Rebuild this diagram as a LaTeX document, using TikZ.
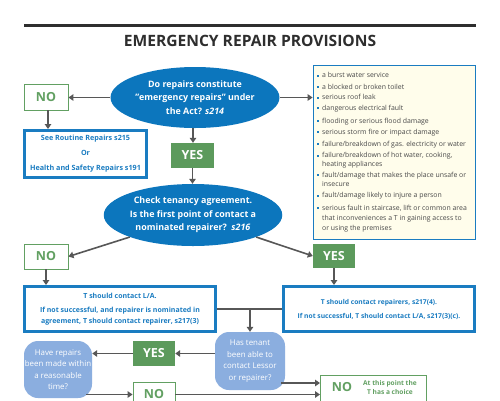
\documentclass[tikz,border=0pt]{standalone}
\usepackage{fontspec}
\setmainfont{Open Sans}
\usetikzlibrary{arrows.meta,shapes.geometric}
\definecolor{dblue}{HTML}{0C76BD}
\definecolor{bblue}{HTML}{1A7CC1}
\definecolor{lblue}{HTML}{8BAEDF}
\definecolor{ygreen}{HTML}{5C9A5C}
\definecolor{ngreen}{HTML}{62A062}
\definecolor{agray}{HTML}{575757}
\definecolor{cream}{HTML}{FFFDEB}
\definecolor{tgray}{HTML}{2E2E2E}
\definecolor{ltext}{HTML}{4A4A4A}
\begin{document}
\begin{tikzpicture}[x=1pt,y=-1pt,
  arr/.style={draw=agray, line width=1.6pt, -{Triangle[length=5pt,width=6.5pt]}},
  ln/.style={draw=agray, line width=1.6pt},
  ell/.style={ellipse, fill=dblue, text=white, inner sep=0pt, align=center, font=\bfseries\fontsize{8.9}{13.5}\selectfont},
  nobox/.style={draw=ngreen, line width=0.9pt, fill=white, text=ngreen, inner sep=0pt, font=\bfseries\fontsize{12.5}{13}\selectfont},
  yesbox/.style={fill=ygreen, text=white, inner sep=0pt, font=\bfseries\fontsize{12.5}{13}\selectfont},
  bbox/.style={draw=bblue, line width=3pt, fill=white, text=bblue, inner sep=0pt, align=center, font=\bfseries\fontsize{7}{11}\selectfont},
  rbox/.style={fill=lblue, text=white, rounded corners=14pt, inner sep=0pt, align=center, font=\fontsize{7.9}{11.5}\selectfont},
  ltxt/.style={anchor=base west, inner sep=0pt, text=ltext, font=\fontsize{6.9}{8}\selectfont},
]
\useasboundingbox (0,0) rectangle (500,400);
\clip (0,0) rectangle (500,400);
\fill[white] (0,0) rectangle (500,400);
% header
\draw[line width=3pt, tgray] (24,25) -- (476,25);
\node[font=\bfseries\fontsize{15.6}{16}\selectfont, text=tgray] (title) at (250,41) {EMERGENCY REPAIR PROVISIONS};
% first question
\node[ell, minimum width=155pt, minimum height=61pt] (e1) at (195,97.5)
  {Do repairs constitute\\"emergency repairs" under\\the Act? \textit{s214}};
\node[nobox, minimum width=44pt, minimum height=26pt] (no1) at (46,97) {NO};
\node[draw=bblue, line width=0.8pt, fill=cream, minimum width=162pt, minimum height=174pt, inner sep=0pt] (list) at (394,152) {};
\foreach \y/\b/\t [count=\i] in {
  75.7/1/{a burst water service},
  87.3/1/{a blocked or broken toilet},
  97.7/1/{serious roof leak},
  108.3/1/{dangerous electrical fault},
  121/1/{flooding or serious flood damage},
  132.3/1/{serious storm fire or impact damage},
  144.3/1/{failure/breakdown of gas. electricity or water},
  155.7/1/{failure/breakdown of hot water, cooking,},
  164.3/0/{heating appliances},
  175/1/{fault/damage that makes the place unsafe or},
  184.3/0/{insecure},
  195.7/1/{fault/damage likely to injure a person},
  208.3/1/{serious fault in staircase, lift or common area},
  218.3/0/{that inconveniences a T in gaining access to},
  228.3/0/{or using the premises}} {
  \node[ltxt] (l\i) at (322,\y+2.2) {\t};
  \ifnum\b=1 \fill[bblue] (316.5,\y-1) rectangle ++(2,2); \fi
}
\node[bbox, minimum width=122pt, minimum height=47pt, font=\bfseries\fontsize{7.2}{15}\selectfont] (routine) at (85.5,154)
  {See Routine Repairs s215\\Or\\Health and Safety Repairs s191};
\node[yesbox, minimum width=43pt, minimum height=25pt] (yes1) at (192.5,155.5) {YES};
% second question
\node[ell, minimum width=150pt, minimum height=62pt] (e2) at (193,215)
  {Check tenancy agreement.\\Is the first point of contact a\\nominated repairer?\ \ \textit{s216}};
\node[nobox, minimum width=44pt, minimum height=25pt] (no2) at (46,256.5) {NO};
\node[yesbox, minimum width=42pt, minimum height=24pt] (yes2) at (334,256) {YES};
\node[bbox, minimum width=191pt, minimum height=45pt] (la) at (120,309)
  {T should contact L/A.\\[3.5pt]If not successful, and repairer is nominated in\\agreement, T should contact repairer, s217(3)};
\node[bbox, minimum width=191pt, minimum height=45pt, font=\bfseries\fontsize{6.7}{14}\selectfont] (rep) at (379,309)
  {T should contact repairers, s217(4).\\If not successful, T should contact L/A, s217(3)(c).};
% bottom
\node[rbox, minimum width=70pt, minimum height=58pt] (rb1) at (250,361)
  {Has tenant\\been able to\\contact Lessor\\or repairer?};
\node[yesbox, minimum width=42pt, minimum height=25pt] (yes3) at (154,353.5) {YES};
\node[rbox, minimum width=68pt, minimum height=57pt] (rb2) at (58,369.5)
  {Have repairs\\been made within\\a reasonable\\time?};
\node[nobox, minimum width=42pt, minimum height=25pt] (no4) at (154,394.5) {NO};
\node[nobox, minimum width=106pt, minimum height=32pt, anchor=north west] (no5) at (320,375) {};
\node[text=ngreen, inner sep=0pt, font=\bfseries\fontsize{12.5}{13}\selectfont] (no5a) at (342,387) {NO};
\node[text=ngreen, inner sep=0pt, align=center, font=\bfseries\fontsize{6.6}{9}\selectfont] (no5b) at (390,387.5) {At this point the\\T has a choice};
% connectors
\draw[arr] (e1.west) -- (e1.west -| no1.east);
\draw[arr] (e1.east) -- (e1.east -| list.west);
\draw[arr] ([xshift=2pt]no1.south) -- ([xshift=2pt]no1.south |- routine.north);
\draw[arr] ([xshift=-2pt]e1.south) -- ([xshift=-2pt]e1.south |- yes1.north);
\draw[arr] (yes1.south) -- (yes1.south |- e2.north);
\draw[arr] (e2.south west) -- (no2.east);
\draw[arr] (e2.south east) -- (yes2.west);
\draw[arr] (no2.south) -- (no2.south |- la.north);
\draw[arr] (yes2.south) -- (yes2.south |- rep.north);
\draw[arr] (la.east) -| (rb1.north);
\draw[ln] (rep.west) -- (rep.west -| rb1.north);
\draw[arr] (yes3.east -| rb1.west) -- (yes3.east);
\draw[arr] (yes3.west) -- (yes3.west -| rb2.east);
\coordinate (c1) at (86,394.5);
\draw[arr] (c1) -- (no4.west);
\coordinate (c2) at (281,383);
\draw[arr] (c2) -- (c2 -| no5.west);
\draw[arr] (no4.east) -- (no4.east -| no5.west);
\end{tikzpicture}
\end{document}
